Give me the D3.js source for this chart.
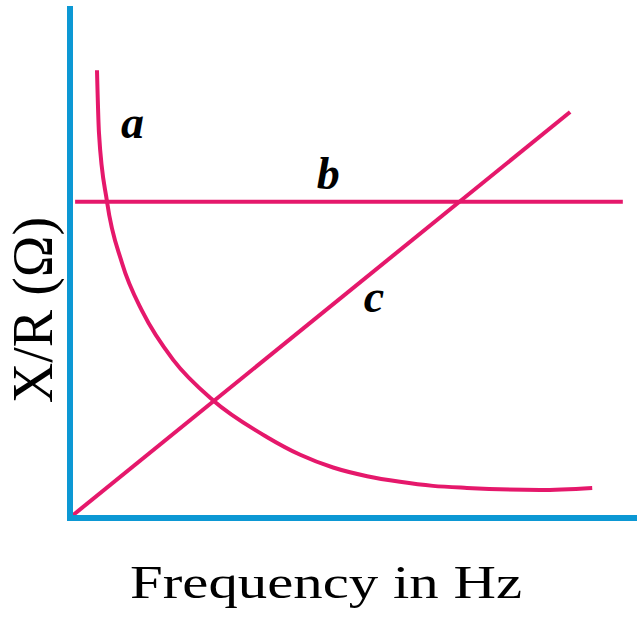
<!DOCTYPE html>
<html>
<head>
<meta charset="utf-8">
<script src="https://cdn.jsdelivr.net/npm/d3@7"></script>
<style>
body { margin: 0; background: #fff; }
</style>
</head>
<body>
<svg id="chart" width="637" height="620"></svg>
<script>
// curve a : X/R falling with frequency
var aFreq = [4.76, 5.11, 6.53, 9.17, 12.9, 18.2, 25.2, 34.7, 40.6, 46.4, 52.4, 58.2, 64.0, 70.0, 82.9, 92.1];
var aVal  = [87.8, 75.5, 62.0, 50.0, 40.2, 31.0, 23.1, 15.9, 12.4, 9.9, 8.2, 7.1, 6.3, 5.9, 5.5, 5.9];
// line b : constant
var bFreq = [0.9, 97.5];
var bVal  = [62.0, 62.0];
// line c : rising
var cFreq = [0.35, 88.2];
var cVal  = [0.4, 79.6];

var labels = ["a", "b", "c"];
var labelFreq = [9.0, 43.5, 51.8];
var labelVal = [74.5, 64.5, 40.3];

var svg = d3.select("#chart");
var x = d3.scaleLinear().domain([0, 100]).range([70, 637]);
var y = d3.scaleLinear().domain([0, 100]).range([518, 8]);

var pink = "#e5186b", blue = "#0c98d4";

function pts(xs, ys) {
	return xs.map(function (d, i) { return [d, ys[i]]; });
}
var line = d3.line()
	.x(function (d) { return x(d[0]); })
	.y(function (d) { return y(d[1]); })
	.curve(d3.curveMonotoneX);

[pts(aFreq, aVal), pts(bFreq, bVal), pts(cFreq, cVal)].forEach(function (p) {
	svg.append("path")
		.attr("d", line(p))
		.style("fill", "none")
		.style("stroke", pink)
		.style("stroke-width", 4);
});

// axes
svg.append("line")
	.attr("x1", x(0)).attr("x2", x(0))
	.attr("y1", y(100) - 2).attr("y2", y(0) + 3)
	.style("stroke", blue).style("stroke-width", 6);
svg.append("line")
	.attr("x1", x(0) - 3).attr("x2", x(100))
	.attr("y1", y(0)).attr("y2", y(0))
	.style("stroke", blue).style("stroke-width", 6);

svg.selectAll(".lbl")
	.data(labels)
	.enter().append("text")
	.attr("class", "lbl")
	.attr("x", function (d, i) { return x(labelFreq[i]); })
	.attr("y", function (d, i) { return y(labelVal[i]); })
	.style("font-family", "'Liberation Serif', serif")
	.style("font-style", "italic")
	.style("font-weight", "bold")
	.style("font-size", "46px")
	.text(function (d) { return d; });

svg.append("text")
	.attr("x", 130).attr("y", 598)
	.attr("textLength", 392)
	.attr("lengthAdjust", "spacingAndGlyphs")
	.style("font-family", "'Liberation Serif', serif")
	.style("font-size", "46px")
	.text("Frequency in Hz");

svg.append("text")
	.attr("transform", "translate(52,310) rotate(-90)")
	.attr("text-anchor", "middle")
	.style("font-family", "'Liberation Serif', serif")
	.style("font-size", "56px")
	.text("X/R (Ω)");
</script>
</body>
</html>
